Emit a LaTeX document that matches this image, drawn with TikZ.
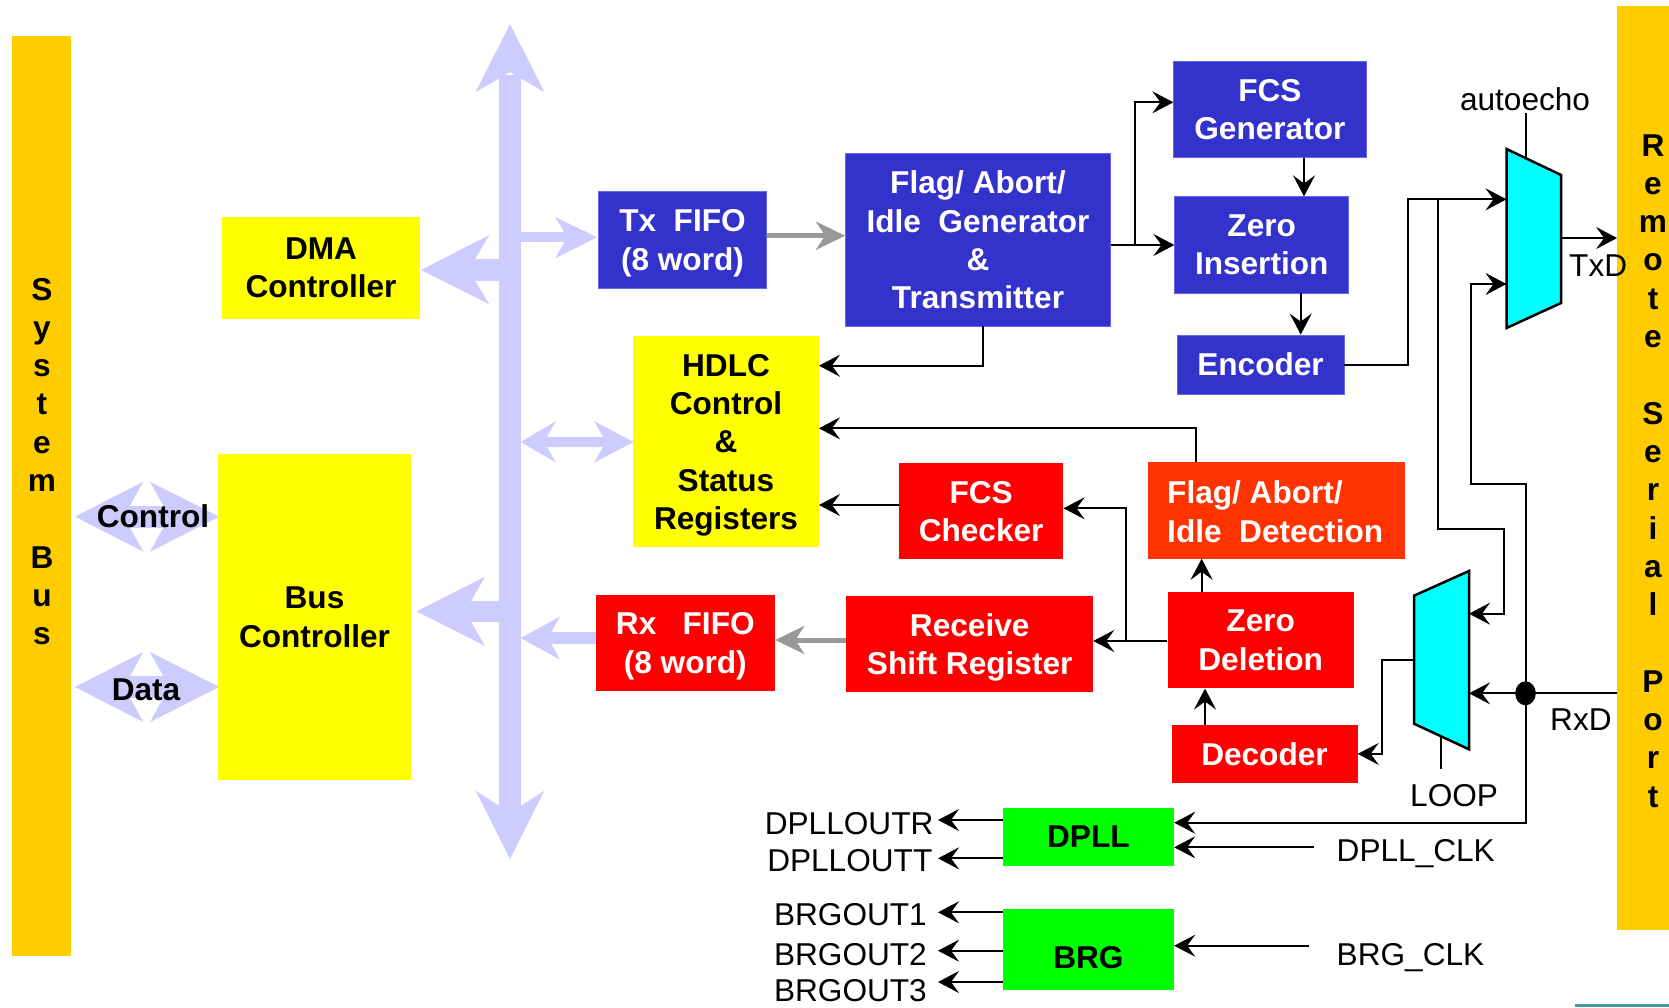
\documentclass[tikz,border=0pt]{standalone}
\usepackage{fontspec}
\setmainfont{Liberation Sans}
\usetikzlibrary{arrows.meta,calc}
\definecolor{barY}{HTML}{FFCC00}
\definecolor{lav}{HTML}{CCCCFF}
\definecolor{boxB}{HTML}{3333CC}
\definecolor{edgeB}{HTML}{6666EE}
\definecolor{boxR}{HTML}{FF0000}
\definecolor{boxO}{HTML}{FF3300}
\definecolor{boxY}{HTML}{FFFF00}
\definecolor{boxG}{HTML}{00FF00}
\definecolor{muxC}{HTML}{00FFFF}
\definecolor{grayA}{HTML}{999999}
\definecolor{tealB}{HTML}{4A9AA5}
\begin{document}
\begin{tikzpicture}[x=1pt,y=-1pt,
  blk/.style={inner sep=0pt, align=center, text depth=0pt, font=\bfseries\fontsize{31.6}{38.3}\selectfont},
  bluebox/.style={blk, fill=boxB, draw=edgeB, line width=0.8pt, text=white},
  redbox/.style={blk, fill=boxR, text=white},
  orbox/.style={blk, fill=boxO, text=white},
  yelbox/.style={blk, fill=boxY, text=black},
  grnbox/.style={blk, fill=boxG, text=black},
  vl/.style={inner sep=0pt, anchor=base, font=\bfseries\fontsize{31.6}{38}\selectfont},
  lbl/.style={inner sep=0pt, font=\fontsize{31.6}{38}\selectfont},
  w/.style={line width=2pt},
  wa/.style={w, -{Stealth[length=21pt,width=22pt,inset=8pt]}},
  ga/.style={line width=5pt, draw=grayA, -{Stealth[length=29pt,width=28pt,inset=9pt]}},
  mux/.style={line width=2.5pt, fill=muxC, draw=black}
]
\useasboundingbox (0,0) rectangle (1669,1007);

% side bars
\node[fill=barY, inner sep=0pt, minimum width=59pt, minimum height=920pt] (sbar) at (41.5,496) {};
\node[fill=barY, inner sep=0pt, minimum width=51.7pt, minimum height=924pt] (rbar) at (1643.15,468) {};
\foreach \c/\k in {S/0,y/1,s/2,t/3,e/4,m/5,B/7,u/8,s/9}
  \node[vl] (sl\k) at (42,{300+38.3*\k}) {\c};
\foreach \c/\k in {R/0,e/1,m/2,o/3,t/4,e/5,S/7,e/8,r/9,i/10,a/11,l/12,P/14,o/15,r/16,t/17}
  \node[vl] (rl\k) at (1653,{156+38.3*\k}) {\c};
\fill[tealB] (1574.5,1003.5) rectangle (1669,1007);

% lavender bus
\fill[lav] (499.3,75) rectangle (520.7,815);
\fill[lav] (510,24) -- (544.5,92.3) -- (510,72) -- (475.5,92.3) -- cycle;
\fill[lav] (510,859) -- (544.3,790.7) -- (510,813) -- (475.7,790.7) -- cycle;
% to DMA
\fill[lav] (466,259.3) rectangle (500,281);
\fill[lav] (421,270) -- (489.3,235) -- (468.7,270) -- (489.3,304.3) -- cycle;
% to Bus Controller
\fill[lav] (463,601) rectangle (500,621.7);
\fill[lav] (416.7,611.3) -- (485,576.7) -- (465,611.3) -- (485,645.9) -- cycle;
% to Tx FIFO
\fill[lav] (520,232.3) rectangle (568,242.3);
\fill[lav] (597,237.3) -- (555.3,217) -- (567.2,237.3) -- (555.3,258.3) -- cycle;
% HDLC double arrow
\fill[lav] (540,437.3) rectangle (609,446.7);
\fill[lav] (520.7,442) -- (556,421) -- (544,442) -- (556,462.7) -- cycle;
\fill[lav] (633.5,442) -- (594,421) -- (606,442) -- (594,462.7) -- cycle;
% from Rx FIFO
\fill[lav] (545,632.3) rectangle (596,643.7);
\fill[lav] (520.7,638) -- (560,616.5) -- (548,638) -- (560,659.5) -- cycle;
% Control / Data double arrows
\foreach \yy/\nm in {516.7/ctl,687/dat}{
  \fill[lav] (122,\yy-11) rectangle (171,\yy+11);
  \fill[lav] (75,\yy) -- (143.3,\yy-35) -- (123.9,\yy) -- (143.3,\yy+35) -- cycle;
  \fill[lav] (219.3,\yy) -- (150,\yy-35) -- (169.4,\yy) -- (150,\yy+35) -- cycle;
}
\node[blk] (ctltext) at (153,516) {Control};
\node[blk] (dattext) at (146,690) {Data};

% boxes
\node[yelbox, minimum width=198pt, minimum height=101.7pt] (dma) at (321,267.9) {DMA\\Controller};
\node[yelbox, minimum width=193pt, minimum height=326pt] (bus) at (314.5,617) {Bus\\Controller};
\node[bluebox, minimum width=167.7pt, minimum height=97.4pt] (txf) at (682.5,240) {Tx\ \ FIFO\\(8 word)};
\node[bluebox, minimum width=265pt, minimum height=172.7pt] (fg) at (978,239.7) {Flag/ Abort/\\Idle\ \ Generator\\\&\\Transmitter};
\node[bluebox, minimum width=192.3pt, minimum height=96pt] (fcsg) at (1269.9,109.7) {FCS\\Generator};
\node[bluebox, minimum width=173.8pt, minimum height=96.3pt] (zi) at (1261.7,244.9) {Zero\\Insertion};
\node[bluebox, minimum width=167pt, minimum height=59pt] (enc) at (1260.5,364.5) {Encoder};
\node[yelbox, minimum width=185.5pt, minimum height=211.3pt] (hdlc) at (726,441.7) {HDLC\\Control\\\&\\Status\\Registers};
\node[redbox, minimum width=164.6pt, minimum height=96.3pt] (fcsc) at (981.1,511.2) {FCS\\Checker};
\node[orbox, minimum width=257.3pt, minimum height=96.5pt] (det) at (1276.2,510.3) {};
\node[blk, text=white, align=left, anchor=west] (dettext) at (1167,511.5) {Flag/ Abort/\\Idle\ \ Detection};
\node[redbox, minimum width=186.4pt, minimum height=96.3pt] (zd) at (1260.7,640.2) {Zero\\Deletion};
\node[redbox, minimum width=186pt, minimum height=57.7pt] (dec) at (1264.5,753.9) {Decoder};
\node[redbox, minimum width=246.7pt, minimum height=96pt] (rsr) at (969.7,643.7) {Receive\\Shift Register};
\node[redbox, minimum width=179.5pt, minimum height=96.2pt] (rxf) at (685.3,642.9) {Rx\ \ \ FIFO\\(8 word)};
\node[grnbox, minimum width=171.2pt, minimum height=57.7pt] (dpll) at (1088.4,836.9) {DPLL};
\node[fill=boxG, inner sep=0pt, minimum width=171.2pt, minimum height=81pt] (brg) at (1088.4,949.5) {};
\node[blk] (brgtext) at (1088.4,957) {BRG};

% muxes
\draw[mux] (1506.5,149) -- (1561,175) -- (1561,303) -- (1506.5,328) -- cycle;
\draw[mux] (1414,595.7) -- (1469,571) -- (1469,749.3) -- (1414,723.7) -- cycle;
\coordinate (m1a) at (1506.5,199.3);
\coordinate (m1b) at (1506.5,284);
\coordinate (m1o) at (1561,238);
\coordinate (m1t) at (1525.7,158.2);
\coordinate (m2a) at (1469,613.7);
\coordinate (m2b) at (1469,693.3);
\coordinate (m2o) at (1414,659.7);
\coordinate (m2l) at (1440.7,736.5);

% gray data arrows
\draw[ga] (txf.east |- 0,235.7) -- (fg.west |- 0,235.7);
\draw[ga] (rsr.west |- 0,640) -- (rxf.east |- 0,640);

% transmit wiring
\coordinate (j1) at (1135,245);
\draw[wa] (fg.east |- 0,245) -- (zi.west |- 0,245);
\draw[wa] (j1) |- (fcsg.west |- 0,102.3);
\draw[wa] (fcsg.south -| 1304,0) -- (zi.north -| 1304,0);
\draw[wa] (zi.south -| 1300.7,0) -- (enc.north -| 1300.7,0);
\draw[wa] (enc.east) -| (1407.7,199.3) -- (m1a);
\coordinate (jE) at (1437.9,199.3);
\draw[wa] (jE) |- (1504.3,529) |- (m2a);
\draw[wa] (fg.south -| 983.4,0) |- (hdlc.east |- 0,365.7);

% autoecho and TxD
\node[lbl, anchor=base] (ae) at (1525,110) {autoecho};
\coordinate (aetop) at (1525.7,112.7);
\draw[w] (aetop) -- (m1t);
\draw[wa] (m1o) -- (rbar.west |- m1o);
\node[lbl, anchor=base west] (txd) at (1569,276.7) {TxD};

% receive wiring
\coordinate (rxin) at (1617.3,693.3);
\coordinate (jR) at (1525.5,693.3);
\draw[wa] (rxin) -- (m2b);
\draw[wa] (jR) |- (1470.7,484) |- (m1b);
\draw[wa] (jR) |- (dpll.east |- 0,822.7);
\fill (jR) ellipse (10.3pt and 12pt);
\node[lbl, anchor=base west] (rxd) at (1550,730) {RxD};
\draw[wa] (m2o) -| (1382,753.9) -- (dec.east);
\draw[w] (m2l) -- (1440.7,769);
\node[lbl, anchor=base west] (loop) at (1410,806.7) {LOOP};

\draw[wa] (dec.north -| 1205,0) -- (zd.south -| 1205,0);
\draw[wa] (zd.north -| 1201.6,0) -- (det.south -| 1201.6,0);
\draw[wa] (zd.west |- 0,641) -- (rsr.east |- 0,641);
\coordinate (jZ) at (1126,641);
\draw[wa] (jZ) |- (fcsc.east |- 0,508.3);
\draw[wa] (fcsc.west |- 0,505) -- (hdlc.east |- 0,505);
\draw[wa] (det.north -| 1195.8,0) |- (hdlc.east |- 0,428.3);

% DPLL / BRG
\node[lbl, anchor=base west] (dclk) at (1336.5,861.7) {DPLL\_CLK};
\node[lbl, anchor=base west] (bclk) at (1336.5,965) {BRG\_CLK};
\coordinate (dclkw) at (1313.7,847.3);
\coordinate (bclkw) at (1308.7,945.7);
\draw[wa] (dclkw) -- (dpll.east |- dclkw);
\draw[wa] (bclkw) -- (brg.east |- bclkw);

\node[lbl, anchor=base east] (o1) at (933.6,834.5) {DPLLOUTR};
\node[lbl, anchor=base east] (o2) at (932.5,871.7) {DPLLOUTT};
\node[lbl, anchor=base east] (o3) at (927,925.7) {BRGOUT1};
\node[lbl, anchor=base east] (o4) at (927,965) {BRGOUT2};
\node[lbl, anchor=base east] (o5) at (927,1001.7) {BRGOUT3};
\coordinate (t1) at (938,820);
\coordinate (t2) at (938,858.3);
\coordinate (t3) at (938,912.3);
\coordinate (t4) at (938,950.7);
\coordinate (t5) at (938,982);
\draw[wa] (dpll.west |- t1) -- (t1);
\draw[wa] (dpll.west |- t2) -- (t2);
\draw[wa] (brg.west |- t3) -- (t3);
\draw[wa] (brg.west |- t4) -- (t4);
\draw[wa] (brg.west |- t5) -- (t5);
\end{tikzpicture}
\end{document}
